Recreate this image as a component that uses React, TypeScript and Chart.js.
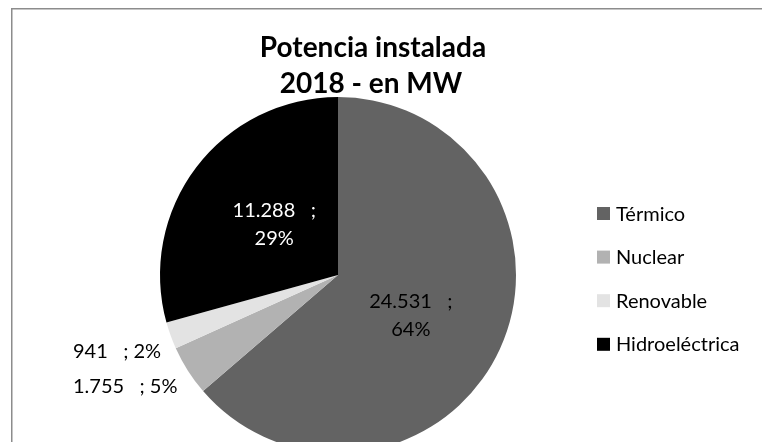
import React, { useEffect, useRef } from "react";
import { Chart, registerables } from "chart.js";

Chart.register(...registerables);

const titleLines = ["Potencia instalada", "2018 - en MW"];
const categories = ["Térmico", "Nuclear", "Renovable", "Hidroeléctrica"];
const values = [24531, 1755, 941, 11288];
const colors = ["#636363", "#b2b2b2", "#e3e3e3", "#000000"];
const labelColors = ["#000000", "#000000", "#000000", "#ffffff"];
const outsideLabel = [false, true, true, false];

const FONT = "Lato, 'Open Sans', sans-serif";

function fmt(n: number): string {
  return n.toString().replace(/\B(?=(\d{3})+(?!\d))/g, ".");
}

const decorPlugin = {
  id: "decor",
  beforeDraw(chart: any) {
    const ctx = chart.ctx;
    ctx.save();
    ctx.fillStyle = "#ffffff";
    ctx.fillRect(0, 0, chart.width, chart.height);
    ctx.strokeStyle = "#8c8c8c";
    ctx.lineWidth = 1.5;
    ctx.strokeRect(11.75, 8.75, 900, 600);
    ctx.restore();
  },
  afterDraw(chart: any) {
    const ctx = chart.ctx;
    ctx.save();
    // Title
    ctx.fillStyle = "#000";
    ctx.font = `bold 28px ${FONT}`;
    ctx.textAlign = "center";
    ctx.textBaseline = "alphabetic";
    ctx.fillText(titleLines[0], 373, 57);
    ctx.fillText(titleLines[1], 371, 93);

    // Legend
    ctx.font = `20px ${FONT}`;
    ctx.textAlign = "left";
    categories.forEach((c, i) => {
      const cy = 213.5 + i * 43.6;
      ctx.fillStyle = colors[i];
      ctx.fillRect(597, cy - 6.5, 13, 13);
      ctx.fillStyle = "#000";
      ctx.fillText(c, 616, cy + 7);
    });

    // Data labels
    const total = values.reduce((a, b) => a + b, 0);
    const meta = chart.getDatasetMeta(0);
    meta.data.forEach((arc: any, i: number) => {
      const p = arc.getProps(["x", "y", "startAngle", "endAngle", "outerRadius"], true);
      const mid = (p.startAngle + p.endAngle) / 2;
      const r = p.outerRadius;
      const pct = Math.round((values[i] / total) * 100) + "%";
      ctx.font = `20px ${FONT}`;
      ctx.fillStyle = labelColors[i];
      if (outsideLabel[i]) {
        const ey = p.y + Math.sin(mid) * r;
        ctx.textAlign = "left";
        ctx.fillText(`${fmt(values[i])}   ; ${pct}`, p.x - r - 87, ey + 16 + 6.5);
      } else {
        const px = p.x + Math.cos(mid) * r * 0.45;
        const py = p.y + Math.sin(mid) * r * 0.5 + 3;
        ctx.textAlign = "center";
        ctx.fillText(`${fmt(values[i])}   ;`, px, py - 14 + 6.5);
        ctx.fillText(pct, px, py + 14 + 6.5);
      }
    });
    ctx.restore();
  },
};

export default function App() {
  const ref = useRef<HTMLCanvasElement | null>(null);
  useEffect(() => {
    if (!ref.current) return;
    const chart = new Chart(ref.current, {
      type: "pie",
      data: {
        labels: categories,
        datasets: [
          {
            data: values,
            backgroundColor: colors,
            borderWidth: 0,
            radius: 178,
            clip: false,
          } as any,
        ],
      },
      options: {
        responsive: false,
        animation: false,
        layout: { padding: { left: 0, right: 86, top: 108, bottom: 0 } },
        plugins: {
          legend: { display: false },
          title: { display: false },
          tooltip: { enabled: false },
        },
      },
      plugins: [decorPlugin],
    });
    return () => chart.destroy();
  }, []);
  return (
    <div style={{ position: "fixed", left: 0, top: 0, width: 762, height: 442, background: "#fff" }}>
      <canvas ref={ref} width={762} height={442} style={{ display: "block" }} />
    </div>
  );
}
